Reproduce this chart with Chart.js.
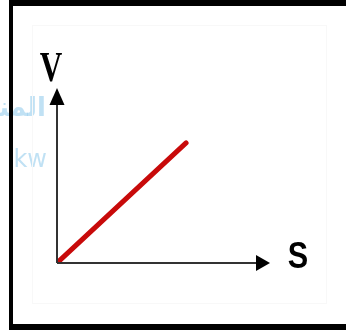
<!DOCTYPE html>
<html>
<head>
<meta charset="utf-8">
<script src="https://cdn.jsdelivr.net/npm/chart.js@4"></script>
<style>
html,body{margin:0;padding:0;background:#fff;overflow:hidden;}
#wrap{position:relative;width:346px;height:332px;}
</style>
</head>
<body>
<div id="wrap"><canvas id="c" width="346" height="332"></canvas></div>
<script>
// Data
const sValues = [0, 6.06];
const vValues = [0, 6.86];
const xLabel = 'S';
const yLabel = 'V';
const xMax = 10;
const yMax = 10;

const points = sValues.map((s, i) => ({x: s, y: vValues[i]}));

const decor = {
  id: 'decor',
  beforeDraw(chart) {
    const ctx = chart.ctx;
    ctx.save();
    ctx.fillStyle = '#fff';
    ctx.fillRect(0, 0, chart.width, chart.height);
    // watermark
    ctx.fillStyle = 'rgba(140,200,235,0.55)';
    ctx.font = 'bold 26px "DejaVu Sans"';
    ctx.textAlign = 'right';
    ctx.textBaseline = 'alphabetic';
    ctx.fillText('المنا', 46, 116);
    ctx.font = '24px "DejaVu Sans"';
    ctx.fillText('kw', 47, 167);
    // faint inner box
    ctx.strokeStyle = '#f8f8f8';
    ctx.lineWidth = 1;
    ctx.strokeRect(32.5, 25.5, 294, 278);
    ctx.restore();
  },
  afterDatasetsDraw(chart) {
    const ctx = chart.ctx;
    const xs = chart.scales.x, ys = chart.scales.y;
    const x0 = xs.getPixelForValue(0), y0 = ys.getPixelForValue(0);
    const xEnd = xs.getPixelForValue(xMax), yEnd = ys.getPixelForValue(yMax);
    ctx.save();
    ctx.strokeStyle = '#333';
    ctx.lineWidth = 2;
    ctx.beginPath();
    ctx.moveTo(x0, y0); ctx.lineTo(x0, yEnd + 10);
    ctx.moveTo(x0, y0); ctx.lineTo(xEnd - 10, y0);
    ctx.stroke();
    ctx.fillStyle = '#000';
    ctx.beginPath();
    ctx.moveTo(x0, yEnd); ctx.lineTo(x0 - 7.5, yEnd + 17); ctx.lineTo(x0 + 7.5, yEnd + 17); ctx.closePath();
    ctx.fill();
    ctx.beginPath();
    ctx.moveTo(xEnd, y0); ctx.lineTo(xEnd - 14, y0 - 8); ctx.lineTo(xEnd - 14, y0 + 8); ctx.closePath();
    ctx.fill();
    // labels
    ctx.fillStyle = '#000';
    ctx.textAlign = 'center';
    ctx.textBaseline = 'alphabetic';
    ctx.save();
    ctx.translate(51, 81);
    ctx.scale(0.78, 1.05);
    ctx.font = 'bold 40px "Liberation Serif"';
    ctx.fillText(yLabel, 0, 0);
    ctx.restore();
    ctx.save();
    ctx.translate(298, 268);
    ctx.scale(0.85, 1);
    ctx.font = 'bold 36px "Liberation Sans"';
    ctx.fillText(xLabel, 0, 0);
    ctx.restore();
    // frame
    ctx.fillStyle = '#000';
    ctx.fillRect(9, 0, 346, 6);
    ctx.fillRect(9, 0, 4, 330);
    ctx.fillRect(9, 324, 346, 6);
    ctx.restore();
  }
};

new Chart(document.getElementById('c'), {
  type: 'scatter',
  data: {
    datasets: [{
      data: points,
      showLine: true,
      borderColor: '#c80a0a',
      borderWidth: 5,
      borderCapStyle: 'round',
      pointRadius: 0,
      fill: false
    }]
  },
  options: {
    responsive: false,
    animation: false,
    devicePixelRatio: 1,
    layout: {padding: {left: 57, top: 88, right: 76, bottom: 69}},
    plugins: {legend: {display: false}, tooltip: {enabled: false}},
    scales: {
      x: {type: 'linear', min: 0, max: xMax, display: false},
      y: {type: 'linear', min: 0, max: yMax, display: false}
    }
  },
  plugins: [decor]
});
</script>
</body>
</html>
